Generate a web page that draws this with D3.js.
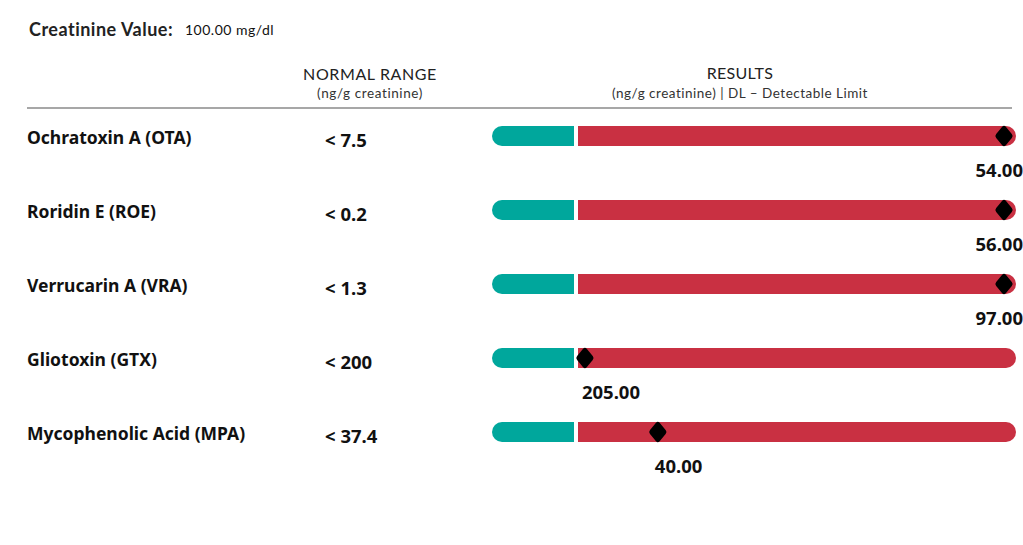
<!DOCTYPE html>
<html>
<head>
<meta charset="utf-8">
<script src="https://cdn.jsdelivr.net/npm/d3@7"></script>
<style>
  body { margin: 0; background: #fff; }
  svg { display: block; }
</style>
</head>
<body>
<div id="chart"></div>
<script>
// data
var toxins = ["Ochratoxin A (OTA)", "Roridin E (ROE)", "Verrucarin A (VRA)", "Gliotoxin (GTX)", "Mycophenolic Acid (MPA)"];
var normalLabels = ["< 7.5", "< 0.2", "< 1.3", "< 200", "< 37.4"];
var normalLimits = [7.5, 0.2, 1.3, 200, 37.4];
var results = [54, 56, 97, 205, 40];
// top of the red part of each gauge (estimated)
var gaugeMax = [15, 0.4, 2.6, 440, 51];

var width = 1023, height = 545;
var svg = d3.select("#chart").append("svg")
  .attr("width", width)
  .attr("height", height);

var headFont = "Lato, sans-serif";
var bodyFont = "Noto Sans, Open Sans, sans-serif";

// header
svg.append("text")
  .attr("x", 29).attr("y", 36)
  .attr("font-family", headFont)
  .attr("font-size", 18)
  .attr("font-weight", 700)
  .attr("letter-spacing", 0.5)
  .attr("fill", "#222")
  .text("Creatinine Value:");
svg.append("text")
  .attr("x", 185).attr("y", 35)
  .attr("font-family", headFont)
  .attr("font-size", 14)
  .attr("letter-spacing", 0.5)
  .attr("fill", "#111")
  .text("100.00 mg/dl");

svg.append("text")
  .attr("x", 370).attr("y", 80)
  .attr("text-anchor", "middle")
  .attr("font-family", headFont)
  .attr("font-size", 16)
  .attr("letter-spacing", 0.6)
  .attr("fill", "#222")
  .text("NORMAL RANGE");
svg.append("text")
  .attr("x", 370).attr("y", 98)
  .attr("text-anchor", "middle")
  .attr("font-family", headFont)
  .attr("font-size", 13.5)
  .attr("letter-spacing", 0.6)
  .attr("fill", "#333")
  .text("(ng/g creatinine)");

svg.append("text")
  .attr("x", 740).attr("y", 79)
  .attr("text-anchor", "middle")
  .attr("font-family", headFont)
  .attr("font-size", 16)
  .attr("letter-spacing", 0.3)
  .attr("fill", "#222")
  .text("RESULTS");
svg.append("text")
  .attr("x", 740).attr("y", 98)
  .attr("text-anchor", "middle")
  .attr("font-family", headFont)
  .attr("font-size", 13.5)
  .attr("letter-spacing", 0.5)
  .attr("fill", "#333")
  .text("(ng/g creatinine) | DL \u2013 Detectable Limit");

svg.append("line")
  .attr("x1", 27).attr("x2", 1012)
  .attr("y1", 108).attr("y2", 108)
  .attr("stroke", "#8a8a8a")
  .attr("stroke-width", 1.5);

// rows
var y = d3.scaleBand()
  .domain(toxins)
  .range([99, 469])
  .padding(0);

var barH = 20, barLeft = 492, split = 576, barRight = 1016, markMax = 1004;
var green = "#00a79c", red = "#c93042";

var rows = svg.selectAll(".row")
  .data(toxins)
  .enter().append("g")
  .attr("class", "row")
  .attr("transform", function (d) { return "translate(0," + (y(d) + y.bandwidth() / 2) + ")"; });

rows.append("text")
  .attr("x", 27).attr("y", 8)
  .attr("font-family", bodyFont)
  .attr("font-size", 17.5)
  .attr("font-weight", 700)
  .attr("fill", "#111")
  .text(function (d) { return d; });

rows.append("text")
  .attr("x", 325).attr("y", 11)
  .attr("font-family", bodyFont)
  .attr("font-size", 18.5)
  .attr("font-weight", 700)
  .attr("fill", "#111")
  .text(function (d, i) { return normalLabels[i]; });

// green (normal) part, rounded on the left
rows.append("path")
  .attr("fill", green)
  .attr("d", function () {
    var r = barH / 2, x0 = barLeft, x1 = split - 2;
    return "M" + (x0 + r) + "," + (-r) + "H" + x1 + "V" + r + "H" + (x0 + r) +
      "A" + r + "," + r + " 0 0 1 " + (x0 + r) + "," + (-r) + "Z";
  });

// red (elevated) part, rounded on the right
rows.append("path")
  .attr("fill", red)
  .attr("d", function () {
    var r = barH / 2, x0 = split + 2, x1 = barRight;
    return "M" + x0 + "," + (-r) + "H" + (x1 - r) +
      "A" + r + "," + r + " 0 0 1 " + (x1 - r) + "," + r + "H" + x0 + "Z";
  });

// marker + value
rows.each(function (d, i) {
  var x = d3.scaleLinear()
    .domain([0, normalLimits[i], gaugeMax[i]])
    .range([barLeft, split, markMax])
    .clamp(true);
  var g = d3.select(this);
  var cx = x(results[i]);
  g.append("rect")
    .attr("x", -8).attr("y", -8)
    .attr("width", 16).attr("height", 16)
    .attr("rx", 3)
    .attr("fill", "#000")
    .attr("transform", "translate(" + cx + ",0) scale(0.85,1) rotate(45)");

  var label = d3.format(".2f")(results[i]);
  var t = g.append("text")
    .attr("y", 41)
    .attr("font-family", bodyFont)
    .attr("font-size", 18.5)
    .attr("font-weight", 700)
    .attr("fill", "#111")
    .text(label);
  var w = t.node().getComputedTextLength();
  var tx = Math.min(cx - 3, width - w);
  t.attr("x", tx);
});
</script>
</body>
</html>
